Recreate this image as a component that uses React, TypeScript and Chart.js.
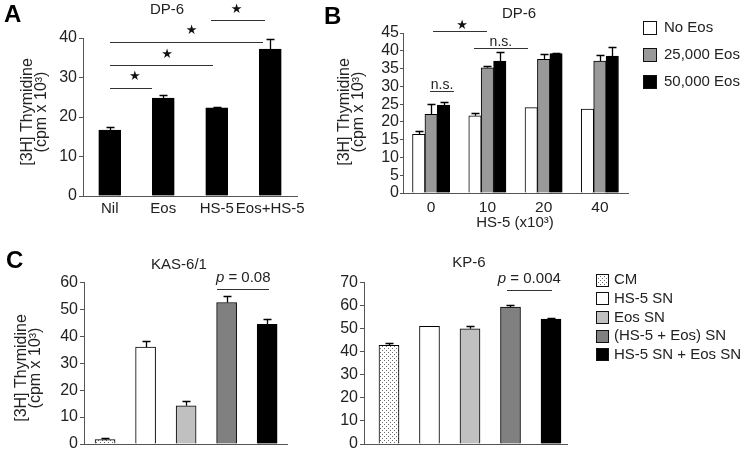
import React, { useEffect, useRef } from 'react';
import { Chart, registerables } from 'chart.js';

Chart.register(...registerables);

const FONT = '"Liberation Sans", Arial, Helvetica, sans-serif';
const SYM = '"DejaVu Sans", sans-serif';
const TEXT = '#222222';
const AXIS = '#555555';
const LINE = '#333333';

// ---------- Panel A : DP-6 ----------
const catsA = ['Nil', 'Eos', 'HS-5', 'Eos+HS-5'];
const valsA = [16.7, 24.8, 22.3, 37.2];
const errA = [0.8, 0.8, 0.2, 2.5];
// significance lines: [fromIndex, toIndex, yValue]; stars: [index, yValue]
const sigLinesA = [[0, 0.79, 27.3], [0, 1.93, 33.2], [0, 2.86, 39.0], [1.89, 2.9, 44.6]];
const sigStarsA = [[0.47, 30.2], [1.07, 35.8], [1.53, 41.9], [2.37, 47.2]];

// ---------- Panel B : DP-6 with HS-5 ----------
const groupsB = ['0', '10', '20', '40'];
const seriesB = ['No Eos', '25,000 Eos', '50,000 Eos'];
const noEos = [16.5, 21.7, 24.0, 23.6];
const noEosErr = [0.9, 0.7, 0, 0];
const eos25k = [22.1, 35.2, 37.6, 37.1];
const eos25kErr = [2.9, 0.6, 1.5, 1.8];
const eos50k = [24.7, 37.1, 39.2, 38.5];
const eos50kErr = [1.0, 2.6, 0.3, 2.6];
const starLinesB = [[0.03, 1.0, 45.5]];
const starsB = [[0.55, 47.1]];
const nsLinesB = [[-0.02, 0.41, 28.6], [0.76, 1.72, 40.7]];

// ---------- Panel C ----------
const condsC = ['CM', 'HS-5 SN', 'Eos SN', '(HS-5 + Eos) SN', 'HS-5 SN + Eos SN'];
const kas = [1.6, 36.0, 14.2, 52.5, 44.4];
const kasErr = [0.6, 2.3, 1.8, 2.4, 2.1];
const kp = [42.7, 50.9, 49.9, 59.3, 54.1];
const kpErr = [1.1, 0, 1.0, 0.9, 0.4];
const pKas = { from: 2.77, to: 4.05, y: 57.4, p: '0.08' };
const pKp = { from: 2.91, to: 4.02, y: 66.7, p: '0.004' };

type Ctx = CanvasRenderingContext2D;

function txt(ctx: Ctx, s: string, x: number, y: number, size: number, align: CanvasTextAlign = 'center', o: any = {}) {
  ctx.font = `${o.style || 'normal'} ${o.weight || 'normal'} ${size}px ${o.family || FONT}`;
  ctx.fillStyle = o.color || TEXT;
  ctx.textAlign = align;
  ctx.textBaseline = o.baseline || 'middle';
  ctx.fillText(s, x, y);
}

function vtxt(ctx: Ctx, lines: string[], x: number, y: number, size: number, gap: number) {
  ctx.save();
  ctx.translate(x, y);
  ctx.rotate(-Math.PI / 2);
  ctx.font = `${size}px ${FONT}`;
  ctx.fillStyle = TEXT;
  ctx.textAlign = 'center';
  ctx.textBaseline = 'middle';
  lines.forEach((l, i) => ctx.fillText(l, 0, i * gap));
  ctx.restore();
}

function sigLine(ctx: Ctx, chart: any, x1: number, x2: number, yv: number) {
  const xs = chart.scales.x, ys = chart.scales.y;
  const y = Math.round(ys.getPixelForValue(yv)) + 0.5;
  ctx.strokeStyle = LINE;
  ctx.lineWidth = 1;
  ctx.beginPath();
  ctx.moveTo(Math.round(xs.getPixelForValue(x1)), y);
  ctx.lineTo(Math.round(xs.getPixelForValue(x2)), y);
  ctx.stroke();
  return y;
}

function star(ctx: Ctx, chart: any, xv: number, yv: number) {
  txt(ctx, '\u2605', chart.scales.x.getPixelForValue(xv), chart.scales.y.getPixelForValue(yv), 13, 'center', { family: SYM, color: '#111' });
}

function pText(ctx: Ctx, cx: number, baseY: number, value: string) {
  ctx.font = `italic 15px ${FONT}`;
  const w1 = ctx.measureText('p').width;
  const rest = ' = ' + value;
  ctx.font = `15px ${FONT}`;
  const w2 = ctx.measureText(rest).width;
  const x = cx - (w1 + w2) / 2;
  ctx.fillStyle = TEXT;
  ctx.textAlign = 'left';
  ctx.textBaseline = 'alphabetic';
  ctx.font = `italic 15px ${FONT}`;
  ctx.fillText('p', x, baseY);
  ctx.font = `15px ${FONT}`;
  ctx.fillText(rest, x + w1, baseY);
}

function legendBox(ctx: Ctx, x: number, cy: number, size: number, fill: any) {
  const top = Math.round(cy - size / 2);
  ctx.fillStyle = fill;
  ctx.fillRect(x, top, size, size);
  ctx.strokeStyle = '#111';
  ctx.lineWidth = 1;
  ctx.strokeRect(x + 0.5, top + 0.5, size - 1, size - 1);
}

const errorBars = {
  id: 'errorBars',
  afterDatasetsDraw(chart: any) {
    const ctx = chart.ctx;
    const ys = chart.scales.y;
    chart.data.datasets.forEach((ds: any, i: number) => {
      const errs = ds.errors;
      if (!errs) return;
      const meta = chart.getDatasetMeta(i);
      meta.data.forEach((bar: any, j: number) => {
        const e = errs[j];
        if (!e) return;
        const raw = ds.data[j];
        const v = typeof raw === 'number' ? raw : raw.y;
        const yTop = Math.round(ys.getPixelForValue(v + e)) + 0.5;
        const x = Math.round(bar.x) + 0.5;
        ctx.save();
        ctx.strokeStyle = '#000';
        ctx.lineWidth = 1.3;
        ctx.beginPath();
        ctx.moveTo(x, bar.y);
        ctx.lineTo(x, yTop);
        ctx.moveTo(x - 4, yTop);
        ctx.lineTo(x + 4, yTop);
        ctx.stroke();
        ctx.restore();
      });
    });
  },
};

function yAxis(max: number, step: number, width: number, tickLen: number, pad: number) {
  return {
    min: 0,
    max,
    ticks: { stepSize: step, autoSkip: false, color: TEXT, font: { family: FONT, size: 16, lineHeight: 1.0 }, padding: pad },
    grid: { drawOnChartArea: false, drawTicks: true, tickLength: tickLen, color: AXIS, lineWidth: 1 },
    border: { color: AXIS, width: 1 },
    afterFit: (s: any) => { s.width = width; },
  };
}

function catAxis(height: number, pad: number, size: number) {
  return {
    type: 'category',
    ticks: { color: TEXT, font: { family: FONT, size }, padding: pad, maxRotation: 0, minRotation: 0, autoSkip: false },
    grid: { display: false, drawTicks: false },
    border: { color: AXIS, width: 1 },
    afterFit: (s: any) => { s.height = height; },
  };
}

function linAxis(min: number, max: number, height: number) {
  return {
    type: 'linear',
    min,
    max,
    offset: false,
    ticks: { display: false },
    grid: { display: false, drawTicks: false },
    border: { color: AXIS, width: 1 },
    afterFit: (s: any) => { s.height = height; },
  };
}

const baseOptions = (padding: any) => ({
  responsive: false,
  animation: false,
  devicePixelRatio: 1,
  layout: { padding },
  plugins: { legend: { display: false }, tooltip: { enabled: false }, title: { display: false } },
});

export default function App() {
  const refA = useRef<HTMLCanvasElement>(null);
  const refB = useRef<HTMLCanvasElement>(null);
  const refCL = useRef<HTMLCanvasElement>(null);
  const refCR = useRef<HTMLCanvasElement>(null);

  useEffect(() => {
    const charts: Chart[] = [];
    const makeDots = (canvas: HTMLCanvasElement) => {
      const pc = document.createElement('canvas');
      pc.width = 4;
      pc.height = 4;
      const p = pc.getContext('2d')!;
      p.fillStyle = '#ffffff';
      p.fillRect(0, 0, 4, 4);
      p.fillStyle = '#6a6a6a';
      p.fillRect(0, 0, 1, 1);
      p.fillRect(2, 2, 1, 1);
      return canvas.getContext('2d')!.createPattern(pc, 'repeat');
    };

    // ----- Panel A -----
    const oxA = 0, oyA = 0;
    charts.push(new Chart(refA.current!, {
      type: 'bar',
      data: {
        labels: catsA,
        datasets: [{ data: valsA, errors: errA, backgroundColor: '#000', borderColor: '#000', borderWidth: 1, barThickness: 22 } as any],
      },
      options: {
        ...baseOptions({ left: 0, top: 38, right: 48, bottom: 0 }),
        scales: { x: catAxis(34, 3.5, 15), y: yAxis(40, 10, 83, 4, 2) },
      } as any,
      plugins: [errorBars, {
        id: 'annotA',
        afterDraw(chart: any) {
          const ctx = chart.ctx;
          ctx.save();
          sigLinesA.forEach(([a, b, y]) => sigLine(ctx, chart, a, b, y));
          sigStarsA.forEach(([x, y]) => star(ctx, chart, x, y));
          ctx.translate(-oxA, -oyA);
          txt(ctx, 'A', 4, 15, 24, 'left', { weight: 'bold', color: '#000' });
          txt(ctx, 'DP-6', 167, 10, 15);
          vtxt(ctx, ['[3H] Thymidine', '(cpm x 10\u00B3)'], 28, 112, 16, 13.5);
          ctx.restore();
        },
      }],
    }));

    // ----- Panel B -----
    const oxB = 320, oyB = 0;
    const fillsB = ['#ffffff', '#999999', '#000000'];
    charts.push(new Chart(refB.current!, {
      type: 'bar',
      data: {
        labels: groupsB,
        datasets: [
          { label: seriesB[0], data: noEos, errors: noEosErr, backgroundColor: fillsB[0], borderColor: '#000', borderWidth: 1, barThickness: 12.4 },
          { label: seriesB[1], data: eos25k, errors: eos25kErr, backgroundColor: fillsB[1], borderColor: '#000', borderWidth: 1, barThickness: 12.4 },
          { label: seriesB[2], data: eos50k, errors: eos50kErr, backgroundColor: fillsB[2], borderColor: '#000', borderWidth: 1, barThickness: 12.4 },
        ] as any,
      },
      options: {
        ...baseOptions({ left: 0, top: 33, right: 117, bottom: 0 }),
        scales: { x: catAxis(37, 5, 15.5), y: yAxis(45, 5, 83, 3, 1) },
      } as any,
      plugins: [errorBars, {
        id: 'annotB',
        afterDraw(chart: any) {
          const ctx = chart.ctx;
          ctx.save();
          starLinesB.forEach(([a, b, y]) => sigLine(ctx, chart, a, b, y));
          starsB.forEach(([x, y]) => star(ctx, chart, x, y));
          nsLinesB.forEach(([a, b, y]) => {
            const py = sigLine(ctx, chart, a, b, y);
            const cx = chart.scales.x.getPixelForValue((a + b) / 2);
            txt(ctx, 'n.s.', cx, py - 2.5, 14, 'center', { baseline: 'alphabetic' });
          });
          ctx.translate(-oxB, -oyB);
          txt(ctx, 'B', 324, 17.5, 24, 'left', { weight: 'bold', color: '#000' });
          txt(ctx, 'DP-6', 519, 14, 15);
          vtxt(ctx, ['[3H] Thymidine', '(cpm x 10\u00B3)'], 345, 112, 16, 13.5);
          txt(ctx, 'HS-5 (x10\u00B3)', 515, 223, 15);
          const rows = [28, 55, 82];
          seriesB.forEach((s, i) => {
            legendBox(ctx, 643, rows[i], 14, fillsB[i]);
            txt(ctx, s, 664, rows[i], 15, 'left');
          });
          ctx.restore();
        },
      }],
    }));

    // ----- Panel C left: KAS-6/1 -----
    const oxCL = 0, oyCL = 230;
    const dotsL = makeDots(refCL.current!);
    const fillsCL = [dotsL, '#ffffff', '#c0c0c0', '#808080', '#000000'];
    charts.push(new Chart(refCL.current!, {
      type: 'bar',
      data: {
        datasets: [{ data: kas.map((v, i) => ({ x: i, y: v })), errors: kasErr, backgroundColor: fillsCL, borderColor: '#000', borderWidth: 1, barThickness: 20 } as any],
      },
      options: {
        ...baseOptions({ left: 0, top: 52.3, right: 43, bottom: 0 }),
        scales: { x: linAxis(-0.52, 4.49, 9), y: yAxis(60, 10, 84, 4, 2) },
      } as any,
      plugins: [errorBars, {
        id: 'annotCL',
        afterDraw(chart: any) {
          const ctx = chart.ctx;
          ctx.save();
          const py = sigLine(ctx, chart, pKas.from, pKas.to, pKas.y);
          pText(ctx, chart.scales.x.getPixelForValue((pKas.from + pKas.to) / 2), py - 8, pKas.p);
          ctx.translate(-oxCL, -oyCL);
          txt(ctx, 'C', 6, 261, 24, 'left', { weight: 'bold', color: '#000' });
          txt(ctx, 'KAS-6/1', 179, 265, 15);
          vtxt(ctx, ['[3H] Thymidine', '(cpm x 10\u00B3)'], 22, 368, 16, 13.5);
          ctx.restore();
        },
      }],
    }));

    // ----- Panel C right: KP-6 -----
    const oxCR = 330, oyCR = 230;
    const dotsR = makeDots(refCR.current!);
    const fillsCR = [dotsR, '#ffffff', '#c0c0c0', '#808080', '#000000'];
    charts.push(new Chart(refCR.current!, {
      type: 'bar',
      data: {
        datasets: [{ data: kp.map((v, i) => ({ x: i, y: v })), errors: kpErr, backgroundColor: fillsCR, borderColor: '#000', borderWidth: 1, barThickness: 20 } as any],
      },
      options: {
        ...baseOptions({ left: 0, top: 52.3, right: 178, bottom: 0 }),
        scales: { x: linAxis(-0.617, 4.395, 9), y: yAxis(70, 10, 34, 4, 2) },
      } as any,
      plugins: [errorBars, {
        id: 'annotCR',
        afterDraw(chart: any) {
          const ctx = chart.ctx;
          ctx.save();
          const py = sigLine(ctx, chart, pKp.from, pKp.to, pKp.y);
          pText(ctx, chart.scales.x.getPixelForValue((pKp.from + pKp.to) / 2), py - 8, pKp.p);
          ctx.translate(-oxCR, -oyCR);
          txt(ctx, 'KP-6', 469, 263, 15);
          const rows = [280, 298.7, 317.4, 336.1, 354.8];
          condsC.forEach((s, i) => {
            legendBox(ctx, 596, rows[i], 13, fillsCR[i]);
            txt(ctx, s, 614, rows[i], 15, 'left');
          });
          ctx.restore();
        },
      }],
    }));

    return () => charts.forEach((c) => c.destroy());
  }, []);

  const abs = (left: number, top: number): React.CSSProperties => ({ position: 'absolute', left, top });

  return (
    <div style={{ position: 'fixed', left: 0, top: 0, width: 745, height: 454, background: '#ffffff', overflow: 'hidden' }}>
      <canvas ref={refA} width={345} height={230} style={abs(0, 0)} />
      <canvas ref={refB} width={425} height={230} style={abs(320, 0)} />
      <canvas ref={refCL} width={330} height={224} style={abs(0, 230)} />
      <canvas ref={refCR} width={415} height={224} style={abs(330, 230)} />
    </div>
  );
}
